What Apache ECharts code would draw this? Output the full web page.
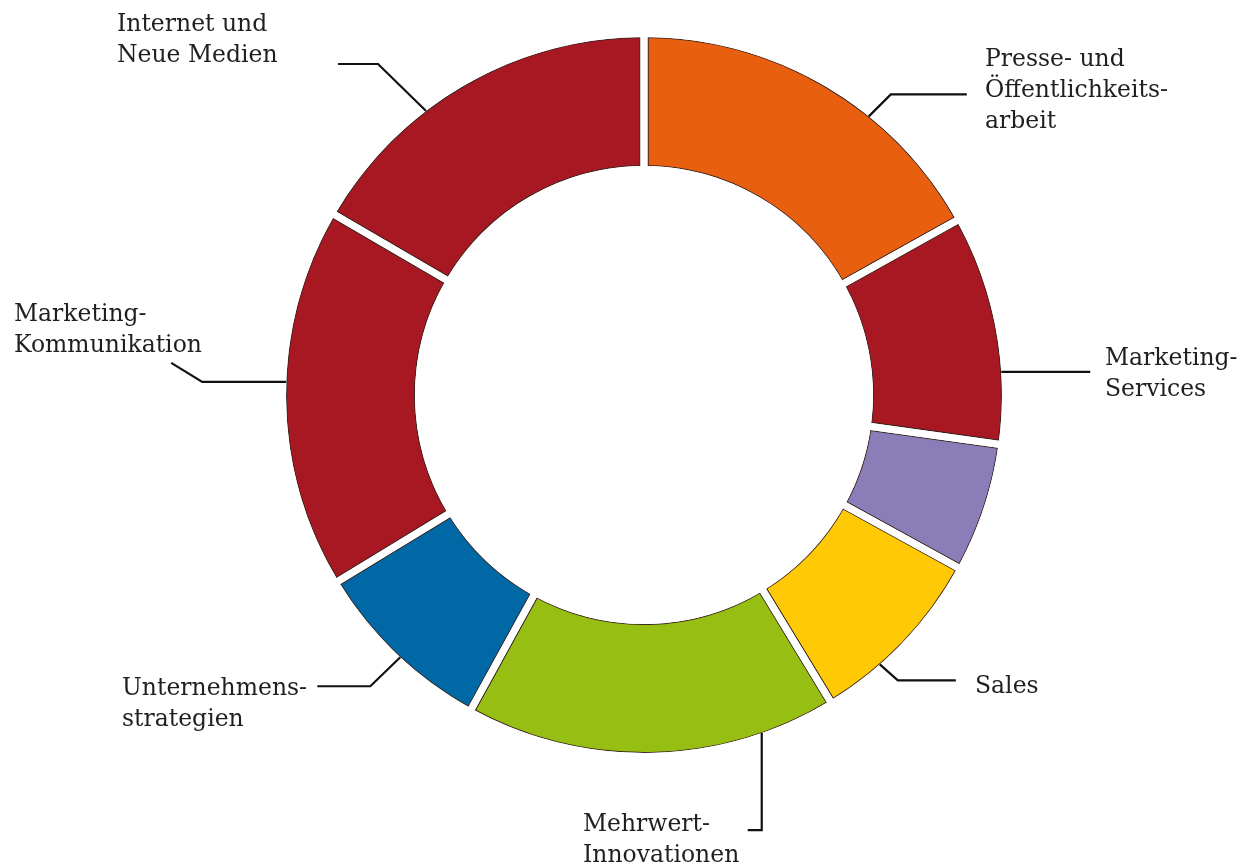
<!DOCTYPE html>
<html>
<head>
<meta charset="utf-8">
<script src="https://cdn.jsdelivr.net/npm/echarts@6/dist/echarts.min.js"></script>
<style>
html,body{margin:0;padding:0;background:#ffffff;}
#chart{width:1240px;height:867px;}
</style>
</head>
<body>
<div id="chart"></div>
<script>
// ---- data (clockwise from 12 o'clock) ----
const categories = [
  'Presse- und\nÖffentlichkeits-\narbeit',
  'Marketing-\nServices',
  '',
  'Sales',
  'Mehrwert-\nInnovationen',
  'Unternehmens-\nstrategien',
  'Marketing-\nKommunikation',
  'Internet und\nNeue Medien'
];
const shares = [16.9, 10.3, 5.8, 8.3, 16.7, 8.3, 17.1, 16.6];
const colors = ['#E8600F', '#A71822', '#8A7DB8', '#FFC905', '#97BE12', '#0068A5', '#A71822', '#A71822'];

// ---- layout / style ----
const CX = 644, CY = 395, R_OUT = 358, R_IN = 229, GAP = 7;
const labelPlacement = [
  {x: 985,  y: 44,  angle: 38.9,  steps: [[22, -22], [76, 0]]},
  {x: 1105, y: 343, angle: 86.3,  steps: [[89, 0]]},
  null,
  {x: 975,  y: 671, angle: 138.8, steps: [[18, 16], [58, 0]]},
  {x: 583,  y: 809, angle: 160.8, steps: [[0, 97], [-14, 0]]},
  {x: 122,  y: 673, angle: 222.9, steps: [[-30, 29], [-53, 0]]},
  {x: 14,   y: 299, angle: 272.1, steps: [[-84, 0], [-31, -19]]},
  {x: 117,  y: 9,   angle: 322.5, steps: [[-48, -47], [-40, 0]]}
];

const chart = echarts.init(document.getElementById('chart'), null, {renderer: 'canvas'});

const common = {
  type: 'pie',
  center: [CX, CY],
  startAngle: 90,
  clockwise: true,
  silent: true,
  animation: false,
  avoidLabelOverlap: false,
  label: {show: false},
  labelLine: {show: false},
  emphasis: {disabled: true}
};

const baseData = categories.map((n, i) => ({name: n, value: shares[i]}));

const option = {
  backgroundColor: '#ffffff',
  animation: false,
  series: [
    Object.assign({}, common, {
      z: 1,
      radius: [R_IN - GAP / 2, R_OUT + GAP / 2],
      data: baseData.map((d, i) => ({
        name: d.name, value: d.value,
        itemStyle: {color: colors[i], borderColor: '#3a2520', borderWidth: GAP + 2, borderJoin: 'round'}
      }))
    }),
    Object.assign({}, common, {
      z: 2,
      radius: [R_IN - GAP / 2, R_OUT + GAP / 2],
      itemStyle: {color: 'rgba(0,0,0,0)', borderColor: '#ffffff', borderWidth: GAP, borderJoin: 'round'},
      data: baseData.map(d => ({name: d.name, value: d.value}))
    }),
    Object.assign({}, common, {
      z: 3,
      radius: [R_OUT, R_OUT + GAP + 8],
      itemStyle: {color: '#ffffff', borderWidth: 0},
      data: [{name: 'ring', value: 1}]
    }),
    Object.assign({}, common, {
      z: 3,
      radius: [0, R_IN],
      itemStyle: {color: '#ffffff', borderWidth: 0},
      data: [{name: 'hole', value: 1}]
    }),
    Object.assign({}, common, {
      z: 4,
      radius: [R_IN, R_OUT],
      itemStyle: {color: 'rgba(0,0,0,0)', borderWidth: 0},
      label: {
        show: true,
        position: 'outside',
        formatter: '{b}',
        fontFamily: 'DejaVu Serif',
        fontSize: 23.5,
        lineHeight: 31,
        color: '#1f1f1f',
        width: 330,
        overflow: 'none'
      },
      labelLine: {show: true, smooth: false, lineStyle: {color: '#111111', width: 2.2}},
      labelLayout: function (p) {
        const L = labelPlacement[p.dataIndex];
        if (!L) return {};
        const a = L.angle * Math.PI / 180;
        let px = CX + R_OUT * Math.sin(a);
        let py = CY - R_OUT * Math.cos(a);
        const pts = [[px, py]];
        L.steps.forEach(s => { px += s[0]; py += s[1]; pts.push([px, py]); });
        return {x: L.x, y: L.y, align: 'left', verticalAlign: 'top', width: 330, labelLinePoints: pts};
      },
      data: baseData.map((d, i) => labelPlacement[i] ? d : {
        name: d.name, value: d.value, label: {show: false}, labelLine: {show: false}
      })
    })
  ]
};

chart.setOption(option);
</script>
</body>
</html>
